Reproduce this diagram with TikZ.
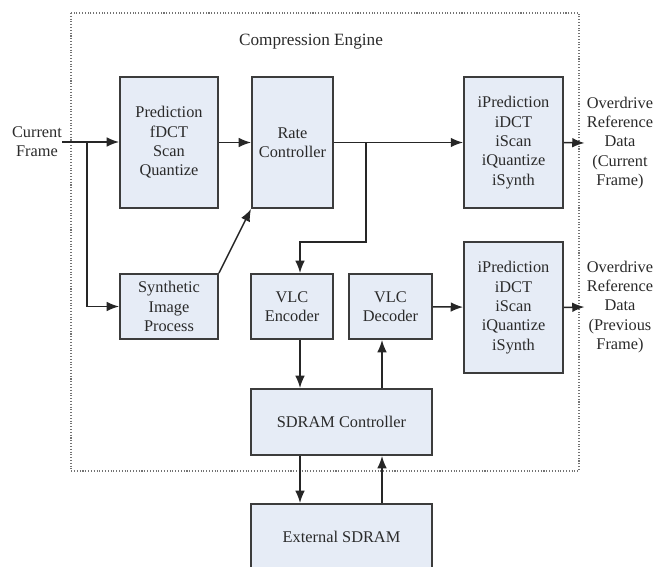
\documentclass[tikz,border=0pt]{standalone}
\usepackage{fontspec}
\setmainfont{Liberation Serif}
\usepackage{tikz}
\usepackage{xcolor}
\usetikzlibrary{
    arrows.meta,
    calc,
    positioning
}
\definecolor{boxfill}{HTML}{E6ECF6}
\definecolor{boxline}{HTML}{3C3C3C}
\definecolor{textgray}{HTML}{2A2A2A}
\tikzset{
    block/.style={draw=boxline, fill=boxfill, line width=1.1pt, align=center,
        inner sep=0pt, font=\fontsize{9.3}{11}\selectfont, text=textgray},
    lbl/.style={align=center, inner sep=0pt, font=\fontsize{9.3}{11}\selectfont, text=textgray},
    flow/.style={draw=black!85, line width=0.85pt, -{Latex[length=7pt,width=5.5pt]}},
    wire/.style={draw=black!85, line width=0.85pt}
}

\begin{document}
\begin{tikzpicture}[x=0.02cm, y=-0.02cm]
    \clip (0,0) rectangle (665,567);
    \draw[black!55, densely dotted, line width=0.6pt] (71,13) rectangle (579,471);
    \node[lbl, font=\fontsize{9.8}{11}\selectfont] (title) at (311,42) {Compression Engine};

    \node[lbl] (cur) at (37,142) {Current\\Frame};
    \node[block, minimum width=1.96cm, minimum height=2.62cm] (pred) at (169,142.5) {Prediction\\fDCT\\Scan\\Quantize};
    \node[block, minimum width=1.62cm, minimum height=2.62cm] (rate) at (292.5,142.5) {Rate\\Controller};
    \node[block, minimum width=1.98cm, minimum height=2.62cm] (ipreda) at (513.5,142.5) {iPrediction\\iDCT\\iScan\\iQuantize\\iSynth};
    \node[lbl] (outa) at (620,143) {Overdrive\\Reference\\Data\\(Current\\Frame)};

    \node[block, minimum width=1.96cm, minimum height=1.3cm] (synth) at (169,306.5) {Synthetic\\Image\\Process};
    \node[block, minimum width=1.64cm, minimum height=1.3cm] (vlcenc) at (292,306.5) {VLC\\Encoder};
    \node[block, minimum width=1.66cm, minimum height=1.3cm] (vlcdec) at (390.5,306.5) {VLC\\Decoder};
    \node[block, minimum width=1.98cm, minimum height=2.62cm] (ipredb) at (513.5,307.5) {iPrediction\\iDCT\\iScan\\iQuantize\\iSynth};
    \node[lbl] (outb) at (620,307) {Overdrive\\Reference\\Data\\(Previous\\Frame)};

    \node[block, minimum width=3.62cm, minimum height=1.32cm] (sdramc) at (341.5,422) {SDRAM Controller};
    \node[block, minimum width=3.62cm, minimum height=1.32cm] (extsdram) at (341.5,537) {External SDRAM};

    \coordinate (split) at (87,142);
    \coordinate (rsplit) at (366,142.5);
    \coordinate (encx) at (300,0);
    \coordinate (decx) at (382,0);

    \draw[wire] (cur.east |- split) -- (split);
    \draw[flow] (split) -- (pred.west |- split);
    \draw[flow] (split) |- (synth.west);
    \draw[flow] (pred) -- (rate);
    \draw[flow] (rate) -- (ipreda);
    \draw[flow] (ipreda.east) -- ($(outa.west)+(-2,0)$);
    \draw[flow] (synth.north east) -- (rate.south west);
    \draw[flow] (rsplit) |- (300,242) -- (vlcenc.north -| encx);
    \draw[flow] (vlcenc.south -| encx) -- (sdramc.north -| encx);
    \draw[flow] (sdramc.north -| decx) -- (vlcdec.south -| decx);
    \draw[flow] (vlcdec) -- (ipredb);
    \draw[flow] (ipredb.east) -- ($(outb.west)+(-2,0)$);
    \draw[flow] (sdramc.south -| encx) -- (extsdram.north -| encx);
    \draw[flow] (extsdram.north -| decx) -- (sdramc.south -| decx);
\end{tikzpicture}
\end{document}
